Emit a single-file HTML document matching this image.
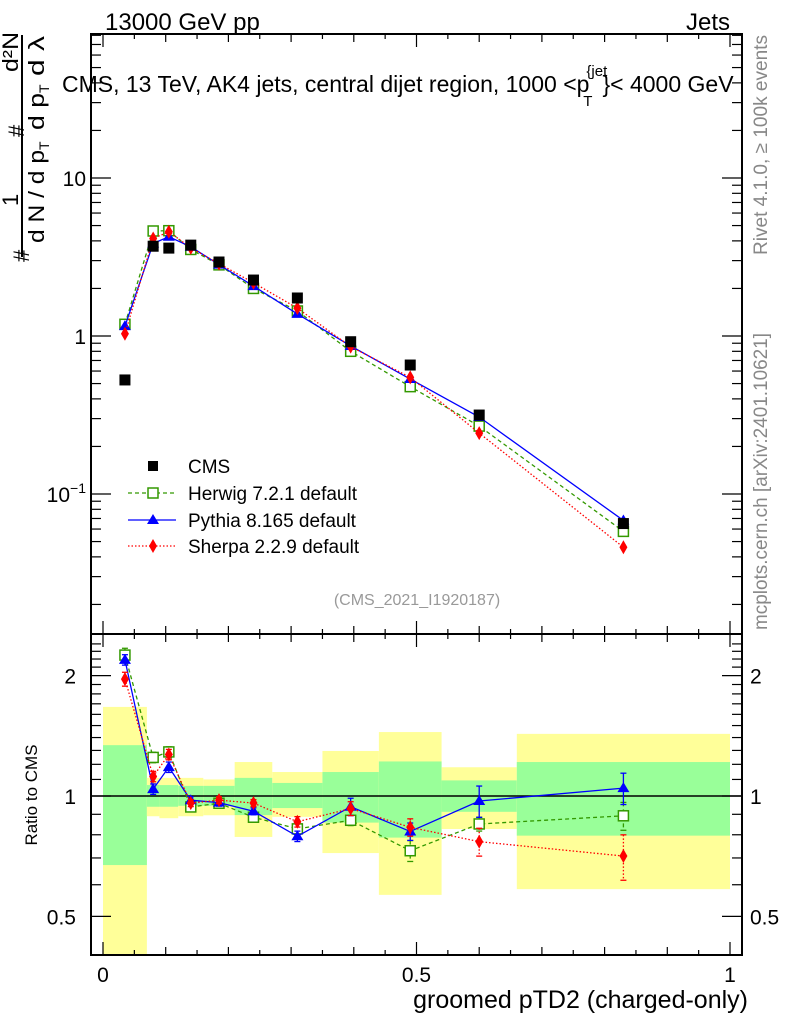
<!DOCTYPE html>
<html><head><meta charset="utf-8"><style>
body{margin:0;background:#fff;}
svg{display:block;font-family:"Liberation Sans",sans-serif;}
</style></head><body>
<svg id="c" width="786" height="1024" viewBox="0 0 786 1024" xmlns="http://www.w3.org/2000/svg">
<g id="bands"></g><g id="grid"></g><g id="marks"></g>
<text x="105" y="30" font-size="24">13000 GeV pp</text>
<text x="730" y="30" font-size="24" text-anchor="end">Jets</text>
<text x="62" y="92" font-size="23">CMS, 13 TeV, AK4 jets, central dijet region, 1000 &lt;p<tspan font-size="15" dy="-16" dx="-3">{jet</tspan><tspan font-size="15" dy="30" dx="-24">T</tspan><tspan dy="-14" dx="10">}&lt; 4000 GeV</tspan></text>
<g font-size="22" transform="rotate(-90)">
<text x="-262" y="29">#</text>
<line x1="-257" y1="22" x2="-35" y2="22" stroke="#000" stroke-width="2"/>
<text x="-206" y="18">1</text>
<text x="-243" y="44" textLength="93" lengthAdjust="spacingAndGlyphs">d N / d p</text>
<text x="-150" y="49" font-size="14">T</text>
<text x="-137" y="24">#</text>
<text x="-130" y="44" textLength="37" lengthAdjust="spacingAndGlyphs">d p</text>
<text x="-93" y="49" font-size="14">T</text>
<text x="-76" y="44" textLength="40" lengthAdjust="spacingAndGlyphs">d λ</text>
<text x="-72" y="18" textLength="40" lengthAdjust="spacingAndGlyphs">d²N</text>
</g>
<text transform="translate(767,255) rotate(-90)" font-size="19" fill="#888" textLength="220" lengthAdjust="spacingAndGlyphs">Rivet 4.1.0, ≥ 100k events</text>
<text transform="translate(767,630) rotate(-90)" font-size="19" fill="#888" textLength="297" lengthAdjust="spacingAndGlyphs">mcplots.cern.ch [arXiv:2401.10621]</text>
<text x="417" y="605" font-size="16" fill="#999" text-anchor="middle">(CMS_2021_I1920187)</text>
<text transform="translate(37,795) rotate(-90)" font-size="17" text-anchor="middle">Ratio to CMS</text>
<text x="748" y="1008" font-size="25" text-anchor="end">groomed pTD2 (charged-only)</text>
<g font-size="19">
<g><rect x="148" y="461" width="10" height="10" fill="#000"/><text x="188" y="473">CMS</text></g>
<g><line x1="128" y1="493" x2="176" y2="493" stroke="#339900" stroke-dasharray="4,3" stroke-width="1.3"/><rect x="148" y="488" width="10" height="10" fill="#fff" stroke="#339900" stroke-width="1.5"/><text x="188" y="500">Herwig 7.2.1 default</text></g>
<g><line x1="128" y1="520" x2="176" y2="520" stroke="#0000ff" stroke-width="1.3"/><polygon points="153,514 159,524 147,524" fill="#0000ff"/><text x="188" y="527">Pythia 8.165 default</text></g>
<g><line x1="128" y1="546" x2="176" y2="546" stroke="#ff0000" stroke-dasharray="1.5,2" stroke-width="1.3"/><polygon points="153,539 157,546 153,553 149,546" fill="#ff0000"/><text x="188" y="553">Sherpa 2.2.9 default</text></g>
</g>
</svg>
<script>
const binEdges=[0,0.07,0.09,0.12,0.16,0.21,0.27,0.35,0.44,0.54,0.66,1.0];
const xCenters=[0.035,0.08,0.105,0.14,0.185,0.24,0.31,0.395,0.49,0.6,0.83];
const cmsVals=[0.527,3.7,3.6,3.76,2.94,2.26,1.74,0.92,0.655,0.316,0.065];
const herwigVals=[1.186,4.62,4.64,3.53,2.82,2.00,1.44,0.80,0.478,0.269,0.058];
const pythiaVals=[1.154,3.85,4.25,3.67,2.83,2.07,1.38,0.865,0.534,0.307,0.068];
const sherpaVals=[1.033,4.14,4.57,3.61,2.87,2.17,1.50,0.856,0.547,0.243,0.046];
const herwigErr=[0.04,0.03,0.03,0.02,0.02,0.02,0.02,0.03,0.06,0.04,0.08];
const pythiaErr=[0.03,0.03,0.03,0.02,0.02,0.02,0.03,0.05,0.05,0.09,0.09];
const sherpaErr=[0.04,0.03,0.03,0.02,0.02,0.02,0.03,0.04,0.05,0.08,0.13];
const greenHi=[1.34,1.065,1.065,1.06,1.06,1.11,1.078,1.148,1.22,1.094,1.216];
const greenLo=[0.672,0.94,0.94,0.945,0.945,0.896,0.933,0.858,0.787,0.913,0.796];
const yellowHi=[1.67,1.11,1.11,1.11,1.10,1.216,1.148,1.296,1.445,1.18,1.43];
const yellowLo=[0.3,0.89,0.88,0.89,0.895,0.79,0.887,0.72,0.566,0.827,0.585];
const xTicks=[0,0.5,1];const xTickLabels=["0","0.5","1"];
const yTicks=[10,1,0.1];
const rTicks=[2,1,0.5];const rTickLabels=["2","1","0.5"];

const L=91,R=742,T=34,MB=634,RB=955;
const X=v=>103+627*v;
const Y=v=>336-158*Math.log10(v);
const YR=v=>796-400*Math.log10(v);
const NS="http://www.w3.org/2000/svg";
function mk(p,t,a){const e=document.createElementNS(NS,t);for(const k in a)e.setAttribute(k,a[k]);document.getElementById(p).appendChild(e);return e;}
for(let i=0;i<xCenters.length;i++){
 const x0=X(binEdges[i]),x1=X(binEdges[i+1]);
 const yh=Math.max(YR(yellowHi[i]),MB),yl=Math.min(YR(yellowLo[i]),RB);
 const yb=mk('bands','rect',{x:x0,y:yh,width:x1-x0,height:yl-yh,fill:'#ffff99'});
 
 
 const gb=mk('bands','rect',{x:x0,y:YR(greenHi[i]),width:x1-x0,height:YR(greenLo[i])-YR(greenHi[i]),fill:'#99ff99'});
 
 
}
const ln=mk('bands','line',{x1:L,x2:R,y1:YR(1),y2:YR(1),stroke:'#000','stroke-width':1.5});


[[T,MB],[MB,RB]].forEach(([a,b])=>{const f=mk('grid','rect',{x:L,y:a,width:R-L,height:b-a,fill:'none',stroke:'#000','stroke-width':2});
 
 });
for(let k=0;k<=20;k++){const v=k*0.05,x=X(v);const len=k%10==0?13:(k%2==0?8:5);
 [[T,1],[MB,-1],[MB,1],[RB,-1]].forEach(([y,d])=>mk('grid','line',{x1:x,x2:x,y1:y,y2:y+d*len,stroke:'#000','stroke-width':1.2}));}
xTicks.forEach((v,i)=>{const t=mk('grid','text',{x:X(v),y:982,'font-size':21,'text-anchor':'middle'});t.textContent=xTickLabels[i];
 
 });
for(let d=-2;d<=1;d++)for(let m=1;m<=9;m++){const v=m*Math.pow(10,d);const y=Y(v);if(y<T||y>MB)continue;const len=m==1?20:10;
 mk('grid','line',{x1:L,x2:L+len,y1:y,y2:y,stroke:'#000','stroke-width':1.2});mk('grid','line',{x1:R,x2:R-len,y1:y,y2:y,stroke:'#000','stroke-width':1.2});}
yTicks.forEach(v=>{const t=mk('grid','text',{x:86,y:Y(v)+8,'font-size':21,'text-anchor':'end'});
 if(v==0.1){t.innerHTML='10<tspan font-size="14" dy="-9">−1</tspan>';}else t.textContent=String(v);
 
 });
for(let v=0.4;v<=2.5;v+=0.1){const y=YR(v);if(y<MB||y>RB)continue;const maj=Math.abs(v-1)<0.01||Math.abs(v-2)<0.01||Math.abs(v-0.5)<0.01;const len=maj?20:10;
 mk('grid','line',{x1:L,x2:L+len,y1:y,y2:y,stroke:'#000','stroke-width':1.2});mk('grid','line',{x1:R,x2:R-len,y1:y,y2:y,stroke:'#000','stroke-width':1.2});}
rTicks.forEach((v,i)=>{[[76,'end'],[750,'start']].forEach(([x,a])=>{const t=mk('grid','text',{x:x,y:YR(v)+8,'font-size':21,'text-anchor':a});t.textContent=rTickLabels[i];
 
 });});
function marker(x,y,kind,col){
 let e;
 if(kind=='sq')e=mk('marks','rect',{x:x-5,y:y-5,width:10,height:10,fill:'#fff',stroke:col,'stroke-width':1.5});
 else if(kind=='tri')e=mk('marks','polygon',{points:`${x},${y-6} ${x+6},${y+4} ${x-6},${y+4}`,fill:col});
 else if(kind=='dia')e=mk('marks','polygon',{points:`${x},${y-7} ${x+4},${y} ${x},${y+7} ${x-4},${y}`,fill:col});
 else e=mk('marks','rect',{x:x-5.5,y:y-5.5,width:11,height:11,fill:col});
 return e;}
const series=[[herwigVals,herwigErr,'#339900','4,3','sq','herwig'],[pythiaVals,pythiaErr,'#0000ff','none','tri','pythia'],[sherpaVals,sherpaErr,'#ff0000','1.5,2','dia','sherpa']];
series.forEach(([vals,err,col,dash,kind,nm])=>{
 const pm=xCenters.map((x,i)=>X(x)+','+Y(vals[i])).join(' ');
 const l1=mk('marks','polyline',{points:pm,fill:'none',stroke:col,'stroke-width':1.3,'stroke-dasharray':dash});
 
 
 const pr=xCenters.map((x,i)=>X(x)+','+YR(vals[i]/cmsVals[i])).join(' ');
 const l2=mk('marks','polyline',{points:pr,fill:'none',stroke:col,'stroke-width':1.3,'stroke-dasharray':dash});
 
 
 xCenters.forEach((xv,i)=>{const x=X(xv),r=vals[i]/cmsVals[i];
  const y1=YR(r*(1+err[i])),y2=YR(r*(1-err[i]));
  mk('marks','line',{x1:x,x2:x,y1:y1,y2:y2,stroke:col,'stroke-width':1.3,'stroke-dasharray':dash});
  mk('marks','line',{x1:x-3,x2:x+3,y1:y1,y2:y1,stroke:col,'stroke-width':1.3});
  mk('marks','line',{x1:x-3,x2:x+3,y1:y2,y2:y2,stroke:col,'stroke-width':1.3});
  const m=marker(x,Y(vals[i]),kind,col);
  
  
  const m2=marker(x,YR(r),kind,col);
  
  
 });
});
xCenters.forEach((xv,i)=>{const m=marker(X(xv),Y(cmsVals[i]),'cms','#000');
 
 });
</script>
</body></html>
